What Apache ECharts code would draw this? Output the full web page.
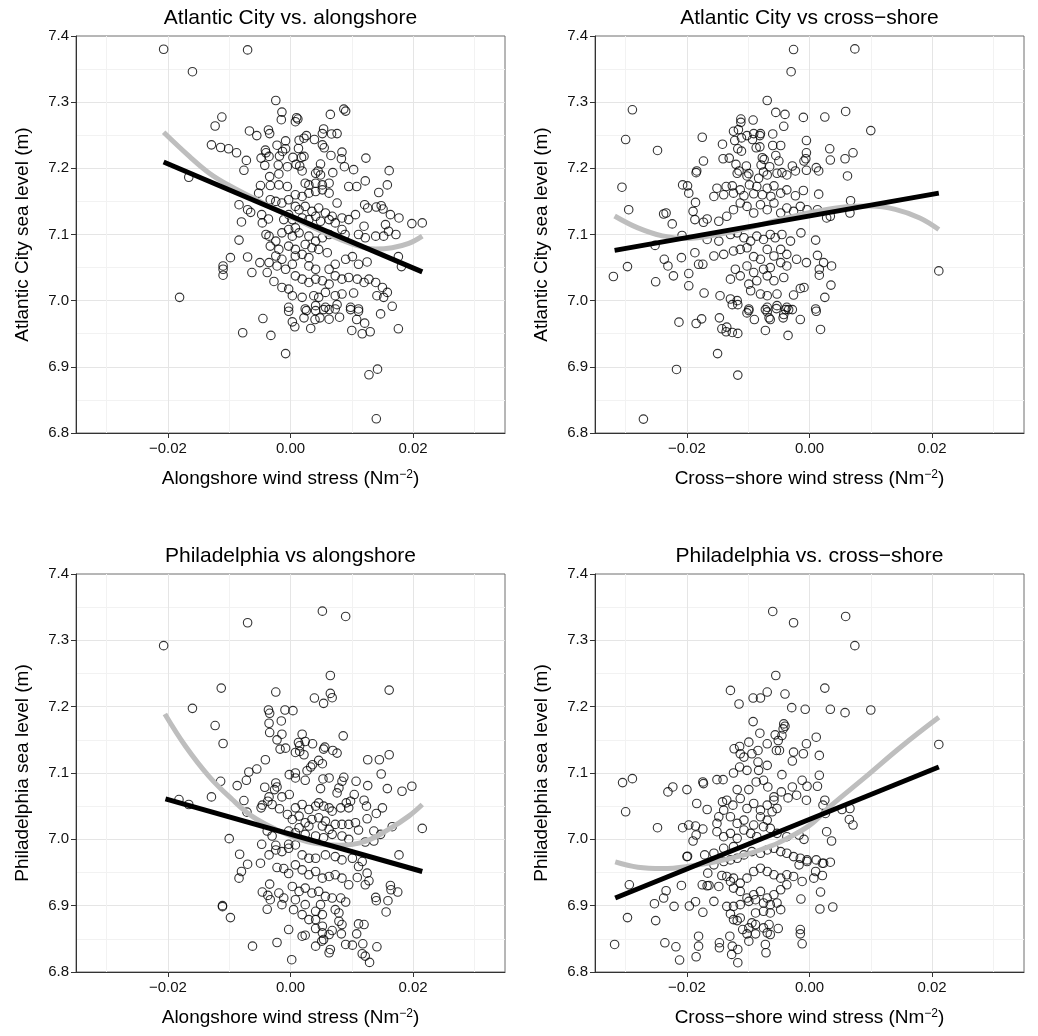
<!DOCTYPE html>
<html>
<head>
<meta charset="utf-8">
<title>Sea level vs wind stress</title>
<script src="https://cdn.jsdelivr.net/npm/echarts@6/dist/echarts.min.js"></script>
<style>
  html, body { margin: 0; padding: 0; background: #fff; }
  #chart { width: 1038px; height: 1036px; }
</style>
</head>
<body>
<div id="chart"></div>
<script>
// tick values
var xTicks = [-0.02, 0, 0.02];
var yTicks = [6.8, 6.9, 7.0, 7.1, 7.2, 7.3, 7.4];

var titles = ['Atlantic City vs. alongshore', 'Atlantic City vs cross\u2212shore',
              'Philadelphia vs alongshore', 'Philadelphia vs. cross\u2212shore'];
var yNames = ['Atlantic City sea level (m)', 'Atlantic City sea level (m)',
              'Philadelphia sea level (m)', 'Philadelphia sea level (m)'];
var xNames = ['Alongshore wind stress (Nm{sup|\u22122})', 'Cross\u2212shore wind stress (Nm{sup|\u22122})',
              'Alongshore wind stress (Nm{sup|\u22122})', 'Cross\u2212shore wind stress (Nm{sup|\u22122})'];

// Atlantic City sea level vs alongshore wind stress
var acAlongPts = [
  [-0.0207,7.38],[-0.007,7.379],[-0.016,7.346],[-0.0024,7.3025],[0.0087,7.2895],[0.009,7.2865],[-0.0014,7.285],
  [-0.0015,7.2735],[0.001,7.2765],[0.0012,7.2745],[0.0008,7.2705],[0.0065,7.2815],[-0.0112,7.2775],[-0.0123,7.264],
  [-0.0067,7.2565],[-0.0055,7.2495],[-0.0036,7.258],[-0.0034,7.2525],[0.0054,7.2595],[0.0052,7.2525],[0.0067,7.252],
  [0.0076,7.2525],[0.0026,7.2495],[0.0022,7.2455],[0.0014,7.2425],[-0.0008,7.2415],[0.0039,7.2435],[-0.0129,7.2355],
  [-0.0114,7.2315],[-0.0101,7.2295],[-0.0088,7.2235],[-0.0022,7.235],[0.0052,7.2355],[0.0055,7.231],[0.0013,7.23],
  [-0.0008,7.2295],[-0.0013,7.2255],[-0.0041,7.2275],[-0.004,7.2235],[0.0084,7.2245],[0.0066,7.2195],[-0.0018,7.2185],
  [-0.0035,7.218],[-0.0048,7.2155],[0.0004,7.2165],[0.0018,7.2165],[0.0022,7.218],[0.0123,7.2155],[0.0083,7.2145],
  [-0.0072,7.212],[-0.0042,7.2045],[-0.002,7.205],[-0.0005,7.2025],[0.0009,7.206],[0.0015,7.2035],[0.0049,7.2065],
  [0.0088,7.2025],[0.0103,7.198],[0.0161,7.1965],[-0.0076,7.197],[0.0019,7.196],[0.0045,7.196],[0.0069,7.1935],
  [-0.0034,7.1875],[-0.0019,7.1915],[0.0041,7.1925],[0.0049,7.19],[-0.0166,7.1865],[-0.0049,7.174],[-0.0033,7.174],
  [-0.0019,7.175],[-0.0005,7.1725],[-0.0052,7.1625],[0.0024,7.1775],[0.003,7.175],[0.0041,7.1775],[0.0052,7.175],
  [0.0063,7.1775],[0.0095,7.1725],[0.0108,7.1725],[0.0122,7.181],[0.0158,7.175],[0.0144,7.1635],[-0.0033,7.1525],
  [-0.0024,7.15],[-0.0014,7.1475],[-0.0003,7.1525],[0.0008,7.16],[0.0019,7.1575],[0.003,7.1625],[0.0041,7.165],
  [0.0052,7.1675],[0.0063,7.1625],[0.0076,7.1475],[-0.0084,7.145],[-0.007,7.1375],[-0.0065,7.1335],[-0.0047,7.13],
  [-0.0036,7.1235],[-0.0046,7.1175],[-0.008,7.119],[0.0008,7.1425],[0.0014,7.1375],[0.0024,7.1425],[0.0035,7.135],
  [0.0046,7.14],[0.0057,7.1325],[0.0068,7.1275],[-0.0003,7.13],[-0.0011,7.1225],[0.0003,7.1225],[0.0019,7.125],
  [0.003,7.1225],[0.0041,7.1275],[0.0049,7.12],[0.0063,7.1225],[0.0073,7.1175],[0.0084,7.125],[0.0095,7.1225],
  [0.0106,7.13],[0.0121,7.145],[0.0126,7.14],[0.014,7.1415],[0.0148,7.1435],[0.0151,7.1385],[0.0163,7.13],
  [0.0177,7.125],[0.012,7.1125],[0.0155,7.115],[0.0198,7.1165],[0.0215,7.1175],[-0.004,7.1],[-0.0035,7.0975],
  [-0.0024,7.09],[-0.0014,7.1025],[-0.0003,7.1075],[0.0008,7.11],[0.0014,7.1025],[0.0003,7.0975],[0.003,7.0975],
  [0.0041,7.09],[0.0052,7.095],[0.0063,7.1],[0.0084,7.1075],[0.0089,7.1],[0.0111,7.1],[0.0122,7.095],[0.0139,7.0975],
  [0.0152,7.0975],[0.016,7.105],[0.0172,7.1],[-0.0084,7.0915],[-0.0033,7.0825],[-0.0019,7.0775],[-0.0003,7.0825],
  [0.0008,7.0775],[0.0024,7.085],[0.0035,7.08],[0.0046,7.0775],[0.006,7.0725],[-0.0024,7.0675],[-0.0014,7.0625],
  [0.0008,7.0675],[0.0019,7.07],[0.003,7.065],[-0.0098,7.065],[-0.007,7.066],[-0.005,7.0575],[-0.011,7.0525],
  [-0.011,7.0475],[-0.011,7.0385],[-0.0035,7.0575],[-0.0022,7.0525],[-0.0008,7.0475],[0.0003,7.055],[0.003,7.0525],
  [0.0041,7.0475],[0.0063,7.0475],[0.0073,7.055],[0.009,7.0625],[0.0101,7.0665],[0.0111,7.055],[0.0125,7.0585],
  [0.0176,7.0665],[0.0181,7.0515],[-0.0063,7.0425],[-0.0038,7.0425],[-0.0027,7.029],[-0.0014,7.02],[-0.0003,7.0175],
  [0.0008,7.0375],[0.0019,7.0325],[0.003,7.0275],[0.0041,7.0325],[0.0052,7.03],[0.0063,7.025],[0.0073,7.0375],
  [0.0084,7.0325],[0.0095,7.035],[0.0109,7.0325],[0.012,7.0275],[0.0128,7.0325],[0.0139,7.0275],[0.015,7.02],
  [0.0158,7.0125],[-0.0181,7.005],[0.0003,7.0075],[0.0019,7.005],[0.0038,7.0075],[0.0046,7.005],[0.0057,7.0125],
  [0.0073,7.0075],[0.0084,7.01],[0.0103,7.0115],[0.0141,7.0075],[0.0152,7.005],[-0.0003,6.99],[0.0024,6.9875],
  [0.0041,6.9925],[0.0057,6.99],[0.0073,6.9875],[0.0098,6.99],[0.0111,6.9875],[0.0166,6.9915],[-0.0003,6.984],
  [0.0026,6.985],[0.0041,6.985],[0.0054,6.9865],[0.0063,6.9865],[0.0076,6.994],[0.0098,6.9865],[0.0111,6.984],
  [0.0147,6.98],[-0.0045,6.973],[0.0003,6.968],[0.0007,6.9605],[0.0022,6.974],[0.004,6.9715],[0.0048,6.974],
  [0.0063,6.972],[0.008,6.975],[0.0108,6.9715],[0.0121,6.966],[0.0033,6.958],[0.01,6.955],[0.0117,6.95],[0.013,6.953],
  [0.0176,6.9575],[-0.0078,6.9515],[-0.0032,6.9475],[-0.0008,6.92],[0.0142,6.8965],[0.0128,6.888],[0.014,6.8215]
];
var acAlongFit = [[-0.0207,7.2095],[0.0215,7.0435]];
var acAlongSmooth = [[-0.0207,7.2545],[-0.0165,7.218],[-0.0133,7.193],[-0.01,7.174],[-0.005,7.15],[0,7.127],
  [0.005,7.105],[0.01,7.086],[0.0139,7.078],[0.0166,7.08],[0.0193,7.0865],[0.0215,7.0975]];

// Atlantic City sea level vs cross-shore wind stress
var acCrossPts = [
  [-0.0026,7.3795],[0.0074,7.3805],[-0.003,7.346],[-0.0069,7.3025],[-0.0289,7.2885],[0.0059,7.286],[-0.0055,7.2845],
  [-0.004,7.2815],[-0.001,7.277],[0.0025,7.2775],[-0.0112,7.2745],[-0.0112,7.2695],[-0.0092,7.273],[-0.0042,7.2635],
  [-0.0124,7.256],[-0.0116,7.2585],[0.01,7.257],[-0.0102,7.2495],[-0.0091,7.2525],[-0.0081,7.2495],[-0.008,7.2525],
  [-0.006,7.252],[-0.03,7.2435],[-0.0175,7.247],[-0.0122,7.242],[-0.0111,7.246],[-0.0093,7.2435],[-0.0005,7.242],
  [-0.0142,7.2365],[-0.0087,7.231],[-0.0081,7.2325],[-0.0117,7.2295],[-0.0111,7.226],[-0.006,7.2345],[-0.0047,7.2345],
  [-0.0248,7.227],[0.0033,7.2295],[-0.0005,7.2235],[0.0071,7.2235],[-0.0055,7.2195],[-0.0141,7.2145],[-0.0131,7.2155],
  [-0.0173,7.211],[-0.0077,7.216],[-0.0074,7.2135],[-0.005,7.211],[-0.0009,7.211],[-0.0006,7.2145],[0.0034,7.2125],
  [0.0058,7.2145],[-0.012,7.206],[-0.0103,7.2035],[-0.0079,7.205],[-0.0065,7.2025],[-0.0028,7.2035],[0.0011,7.201],
  [-0.0184,7.196],[-0.0115,7.196],[-0.0099,7.192],[-0.0075,7.1945],[-0.0045,7.1935],[-0.0023,7.196],[-0.0005,7.197],
  [0.0015,7.196],[0.0062,7.1885],[-0.0185,7.1935],[-0.0118,7.1925],[-0.0102,7.1885],[-0.0083,7.185],[-0.0069,7.19],
  [-0.0053,7.1925],[-0.0037,7.19],[-0.0306,7.1715],[-0.0207,7.175],[-0.0199,7.1735],[-0.0197,7.1625],[-0.0151,7.17],
  [-0.0136,7.1725],[-0.0126,7.1735],[-0.0113,7.1675],[-0.0098,7.175],[-0.0086,7.1725],[-0.0069,7.17],[-0.0058,7.1735],
  [-0.0156,7.1575],[-0.014,7.16],[-0.0124,7.1625],[-0.0107,7.1585],[-0.0091,7.1615],[-0.0077,7.16],[-0.0063,7.1575],
  [-0.0047,7.1625],[-0.0037,7.1675],[-0.0023,7.1585],[-0.001,7.1665],[0.0015,7.161],[-0.0186,7.1485],[-0.0295,7.1375],
  [-0.0238,7.131],[-0.0234,7.1325],[-0.019,7.135],[-0.0224,7.116],[-0.0187,7.1225],[-0.0173,7.1185],[-0.0167,7.1235],
  [-0.0148,7.12],[-0.0135,7.1275],[-0.0124,7.1375],[-0.0113,7.1475],[-0.0102,7.1425],[-0.0091,7.1325],[-0.008,7.145],
  [-0.0069,7.1375],[-0.0058,7.1475],[-0.0047,7.1325],[-0.0037,7.14],[-0.0026,7.135],[-0.0015,7.1425],[-0.0004,7.1375],
  [0.0013,7.1375],[0.0067,7.151],[0.0066,7.1325],[0.0028,7.125],[0.0034,7.1275],[-0.0208,7.0985],[-0.0252,7.0835],
  [-0.0167,7.0925],[-0.0148,7.09],[-0.0129,7.1],[-0.0118,7.1025],[-0.0107,7.095],[-0.0096,7.09],[-0.0086,7.0975],
  [-0.0075,7.0925],[-0.0064,7.1],[-0.0056,7.095],[-0.0045,7.1],[-0.0031,7.09],[-0.0014,7.1025],[0.001,7.0915],
  [-0.032,7.0365],[-0.0297,7.0515],[-0.0237,7.0625],[-0.0231,7.0525],[-0.0209,7.065],[-0.0222,7.0375],[-0.0187,7.0725],
  [-0.0181,7.055],[-0.0174,7.055],[-0.0197,7.041],[-0.0197,7.0225],[-0.0156,7.0675],[-0.014,7.07],[-0.0124,7.075],
  [-0.0113,7.0775],[-0.0102,7.08],[-0.0091,7.0665],[-0.008,7.0625],[-0.0069,7.0775],[-0.0058,7.0675],[-0.0047,7.0775],
  [-0.0037,7.07],[-0.0021,7.0625],[-0.0005,7.0575],[0.0013,7.0685],[0.0023,7.0575],[0.0036,7.0525],[0.0016,7.0475],
  [0.0016,7.0385],[0.0211,7.045],[-0.0121,7.0475],[-0.0102,7.0525],[-0.0091,7.0425],[-0.0075,7.0475],[-0.0064,7.05],
  [-0.0047,7.0575],[-0.0037,7.0525],[-0.0129,7.0325],[-0.0113,7.0375],[-0.0099,7.025],[-0.0086,7.03],[-0.0069,7.0375],
  [-0.0058,7.03],[-0.0042,7.035],[-0.0251,7.0285],[-0.0172,7.0115],[-0.0146,7.0075],[-0.0129,7.0025],[-0.0118,7.0],
  [-0.0096,7.015],[-0.008,7.01],[-0.0069,7.0075],[-0.0053,7.01],[-0.0026,7.0085],[-0.0015,7.0185],[-0.0009,7.02],
  [0.0025,7.005],[0.0035,7.0235],[-0.0099,6.9875],[-0.0069,6.99],[-0.0053,6.9925],[-0.0037,6.99],[0.001,6.9875],
  [-0.0126,6.994],[-0.0117,6.994],[-0.0099,6.985],[-0.0102,6.9815],[-0.009,6.9715],[-0.0072,6.9865],[-0.0069,6.983],
  [-0.0054,6.988],[-0.0064,6.9715],[-0.0066,6.974],[-0.0042,6.979],[-0.0043,6.974],[-0.0039,6.9865],[-0.0034,6.9865],
  [-0.0028,6.9865],[-0.0015,6.9715],[0.0011,6.984],[0.0018,6.9565],[-0.0213,6.9675],[-0.0185,6.9655],[-0.0176,6.9725],
  [-0.0147,6.974],[-0.0143,6.9575],[-0.0135,6.96],[-0.0136,6.953],[-0.0126,6.952],[-0.0117,6.9505],[-0.0072,6.955],
  [-0.0035,6.9475],[-0.015,6.92],[-0.0217,6.896],[-0.0117,6.8875],[-0.0271,6.821]
];
var acCrossFit = [[-0.0318,7.076],[0.0211,7.1625]];
var acCrossSmooth = [[-0.0318,7.128],[-0.028,7.11],[-0.024,7.098],[-0.02,7.094],[-0.015,7.1],[-0.01,7.11],
  [-0.005,7.122],[0,7.133],[0.005,7.141],[0.01,7.143],[0.014,7.138],[0.018,7.125],[0.0211,7.1075]];

// Philadelphia sea level vs alongshore wind stress
var phAlongPts = [
  [0.0052,7.344],[0.009,7.336],[-0.007,7.3265],[-0.0207,7.292],[0.0065,7.247],[-0.0113,7.228],[-0.0024,7.222],
  [0.0161,7.225],[0.0065,7.22],[0.0068,7.2135],[0.0039,7.213],[0.0054,7.205],[-0.016,7.1975],[-0.0036,7.195],
  [-0.0034,7.19],[-0.0009,7.195],[0.0004,7.194],[-0.0035,7.175],[-0.0015,7.1785],[-0.0034,7.161],[-0.0014,7.1585],
  [-0.0022,7.15],[-0.0123,7.1715],[-0.011,7.1445],[0.0019,7.1585],[0.0013,7.146],[0.0015,7.141],[0.0024,7.1475],
  [0.0036,7.144],[0.0086,7.156],[-0.0017,7.136],[-0.0008,7.1375],[0.0008,7.131],[0.0015,7.1325],[0.0022,7.1275],
  [0.0056,7.139],[0.0054,7.136],[0.0069,7.134],[0.0076,7.13],[-0.0041,7.12],[0.0046,7.119],[0.0052,7.114],
  [0.0036,7.1125],[0.0033,7.109],[0.0027,7.1035],[0.0126,7.12],[0.0145,7.12],[0.0161,7.1275],[-0.0068,7.1015],
  [-0.0055,7.106],[-0.0002,7.0975],[0.0008,7.1],[0.0008,7.0925],[0.0148,7.0985],[-0.0114,7.0875],[-0.0072,7.089],
  [-0.0087,7.081],[0.0024,7.089],[0.0053,7.091],[0.0063,7.0925],[0.0084,7.0875],[0.0087,7.0935],[0.0107,7.0875],
  [-0.0024,7.085],[-0.0022,7.079],[-0.0026,7.075],[-0.0042,7.0785],[0.0049,7.0765],[0.0079,7.0775],[0.0076,7.07],
  [-0.0002,7.0675],[-0.0014,7.064],[0.0126,7.081],[0.0158,7.0765],[0.0182,7.0725],[0.0198,7.08],[0.0104,7.0675],
  [0.0098,7.0575],[0.0091,7.055],[-0.0129,7.064],[-0.0076,7.0585],[-0.0035,7.064],[-0.0037,7.0575],[-0.0046,7.0515],
  [-0.0048,7.0475],[-0.003,7.0525],[-0.0018,7.046],[-0.0005,7.0375],[-0.0182,7.06],[-0.0166,7.0525],[0.012,7.059],
  [0.0124,7.05],[0.015,7.0475],[0.014,7.039],[0.0125,7.031],[0.0008,7.0475],[0.0019,7.0525],[0.003,7.045],
  [0.0041,7.05],[0.0046,7.055],[0.0054,7.05],[0.0063,7.0475],[0.0068,7.0425],[0.0082,7.0475],[0.0095,7.0475],
  [-0.0071,7.041],[0.0003,7.03],[0.0014,7.035],[0.0024,7.025],[0.0035,7.03],[0.0046,7.0325],[0.0057,7.0275],
  [0.0014,7.0175],[0.003,7.02],[0.0052,7.02],[0.0063,7.015],[0.0073,7.0225],[0.0084,7.0225],[0.0095,7.0225],
  [0.0106,7.025],[0.0111,7.014],[-0.0003,7.0125],[0.0008,7.01],[0.0024,7.0075],[0.0041,7.005],[0.0054,7.0025],
  [0.0068,7.0075],[0.0084,7.005],[0.0095,7.0],[-0.0038,7.0125],[-0.003,7.005],[-0.01,7.001],[0.0136,7.0125],
  [0.0147,7.0075],[0.0166,7.019],[0.0215,7.0165],[0.0122,6.996],[0.0136,6.9975],[-0.0047,6.9925],[-0.0024,6.991],
  [-0.0003,6.9925],[-0.0035,6.9765],[-0.0024,6.984],[-0.0014,6.9815],[-0.0003,6.9865],[0.0008,6.9915],[0.0019,6.9765],
  [0.003,6.9715],[0.0041,6.9715],[0.0057,6.9765],[0.0073,6.974],[0.0084,6.969],[0.0101,6.9715],[0.0117,6.9665],
  [-0.0083,6.9775],[-0.007,6.9625],[-0.008,6.9515],[-0.0084,6.9415],[-0.0049,6.964],[-0.0022,6.9575],[-0.0011,6.956],
  [-0.0003,6.9485],[0.0008,6.9615],[0.0019,6.954],[0.003,6.9465],[0.0041,6.9515],[0.0052,6.9415],[0.0063,6.944],
  [0.0073,6.9465],[0.0084,6.9415],[0.0095,6.9315],[0.0109,6.9425],[0.0125,6.949],[0.0128,6.9375],[0.0111,6.959],
  [0.0122,6.9315],[0.0177,6.9765],[0.0163,6.9305],[0.0164,6.924],[0.0175,6.9205],[-0.0034,6.9325],[-0.0046,6.9205],
  [-0.0037,6.9155],[-0.0033,6.909],[-0.0019,6.919],[-0.0011,6.9115],[0.0003,6.929],[0.0014,6.9215],[0.0024,6.9265],
  [0.0035,6.919],[0.0046,6.9215],[0.0057,6.914],[0.0068,6.9115],[0.0082,6.9115],[0.009,6.9055],[-0.0014,6.9015],
  [0.0008,6.909],[0.0024,6.9015],[0.0049,6.9015],[0.0139,6.9125],[0.014,6.9075],[0.0159,6.9075],[0.0156,6.8905],
  [-0.0111,6.9],[-0.0111,6.8985],[-0.0098,6.882],[-0.0038,6.8945],[0.0005,6.894],[0.0019,6.8865],[0.003,6.879],
  [0.0041,6.8915],[0.0052,6.8865],[0.0041,6.879],[0.0052,6.869],[0.0073,6.894],[0.0079,6.889],[0.0079,6.8765],
  [0.0084,6.8715],[-0.0003,6.864],[0.0019,6.854],[0.0024,6.8555],[0.0041,6.8655],[0.0052,6.859],[0.0063,6.8565],
  [0.0068,6.8625],[0.0083,6.8575],[0.0108,6.8575],[0.0111,6.8725],[0.012,6.8715],[-0.0062,6.839],[-0.0022,6.8445],
  [0.0041,6.839],[0.0051,6.8465],[0.0054,6.849],[0.0065,6.834],[0.0063,6.829],[0.009,6.8415],[0.0101,6.8405],
  [0.0118,6.8425],[0.0141,6.838],[0.0002,6.8185],[0.0117,6.8275],[0.0122,6.824],[0.0129,6.8145]
];
var phAlongFit = [[-0.0204,7.061],[0.0215,6.9515]];
var phAlongSmooth = [[-0.0205,7.189],[-0.0171,7.14],[-0.0133,7.095],[-0.0095,7.06],[-0.0063,7.035],[-0.0024,7.015],
  [0.0008,7.0025],[0.004,6.994],[0.008,6.991],[0.0122,6.997],[0.016,7.015],[0.0193,7.035],[0.0215,7.0525]];

// Philadelphia sea level vs cross-shore wind stress
var phCrossPts = [
  [-0.006,7.3435],[0.0059,7.336],[-0.0026,7.3265],[0.0074,7.292],[-0.0055,7.247],[-0.0129,7.2245],[-0.0115,7.204],
  [-0.0092,7.213],[-0.008,7.213],[-0.0069,7.222],[-0.004,7.219],[0.0025,7.228],[-0.0029,7.1985],[-0.0007,7.196],
  [0.0034,7.196],[0.0058,7.191],[0.01,7.195],[-0.0092,7.1775],[-0.0081,7.16],[-0.0056,7.1575],[-0.0051,7.149],
  [-0.0045,7.1565],[-0.0042,7.174],[-0.004,7.1705],[-0.0043,7.1665],[-0.0099,7.1465],[-0.0114,7.14],[-0.0123,7.1365],
  [-0.0113,7.129],[-0.0107,7.124],[-0.0094,7.129],[-0.0069,7.144],[-0.0084,7.134],[-0.0084,7.1165],[-0.0069,7.1115],
  [-0.0083,7.104],[-0.0054,7.134],[-0.0049,7.134],[-0.0026,7.1315],[-0.001,7.129],[-0.0005,7.144],[0.0011,7.154],
  [0.0016,7.1265],[-0.0028,7.118],[-0.0124,7.1],[-0.0114,7.109],[-0.0102,7.104],[-0.0045,7.0975],[0.0016,7.0965],
  [-0.0305,7.0855],[-0.0289,7.0915],[-0.03,7.0415],[-0.0231,7.0715],[-0.0223,7.079],[-0.02,7.075],[-0.0174,7.0865],
  [-0.0173,7.084],[-0.0151,7.09],[-0.0141,7.09],[-0.0118,7.075],[-0.0099,7.075],[-0.0087,7.0865],[-0.0075,7.089],
  [-0.0068,7.079],[-0.0058,7.064],[-0.0028,7.079],[-0.0021,7.0665],[-0.0012,7.089],[-0.0004,7.08],[-0.0005,7.059],
  [0.0013,7.08],[-0.0184,7.054],[-0.0167,7.045],[-0.0142,7.0565],[-0.0135,7.059],[-0.0125,7.0515],[-0.0113,7.0615],
  [-0.0102,7.0465],[-0.0091,7.054],[-0.008,7.044],[-0.0069,7.0515],[-0.0058,7.059],[-0.0053,7.0465],[-0.0046,7.0715],
  [-0.0035,7.0625],[0.0025,7.059],[0.0022,7.0515],[0.0026,7.039],[0.0066,7.0465],[0.0071,7.0215],[0.0065,7.03],
  [0.0053,7.045],[0.0211,7.143],[-0.0248,7.0175],[-0.0207,7.0175],[-0.0197,7.0215],[-0.0186,7.02],[-0.0174,7.0155],
  [-0.0185,7.0065],[-0.019,6.9975],[-0.0151,7.024],[-0.0148,7.034],[-0.014,7.044],[-0.0129,7.034],[-0.0118,7.024],
  [-0.0107,7.029],[-0.0091,7.0215],[-0.008,7.034],[-0.0069,7.029],[-0.0061,7.0415],[-0.0151,7.0115],[-0.014,7.004],
  [-0.0129,7.009],[-0.0118,7.0015],[-0.0107,7.014],[-0.0096,7.009],[-0.0086,7.004],[-0.0075,7.019],[-0.0064,7.0165],
  [-0.0053,7.009],[-0.0017,7.0065],[-0.0009,7.0],[0.0028,7.0115],[0.0036,6.9975],[-0.0037,7.004],[-0.02,6.974],
  [-0.0199,6.9745],[-0.0171,6.9765],[-0.0156,6.979],[-0.014,6.9865],[-0.0124,6.989],[-0.0156,6.9615],[-0.0166,6.949],
  [-0.0175,6.9315],[-0.0164,6.9305],[-0.0148,6.929],[-0.0156,6.9065],[-0.014,6.9665],[-0.0129,6.969],[-0.0118,6.9715],
  [-0.0107,6.9765],[-0.0094,6.9815],[-0.008,6.979],[-0.0069,6.984],[-0.0058,6.9865],[-0.0047,6.9815],[-0.0037,6.979],
  [-0.0026,6.974],[-0.0015,6.9715],[-0.0004,6.969],[-0.0017,6.9615],[-0.0143,6.9455],[-0.0135,6.944],[-0.0129,6.9365],
  [-0.0124,6.9415],[-0.0113,6.934],[-0.0102,6.9415],[-0.0091,6.9515],[-0.008,6.9565],[-0.0069,6.9515],[-0.0058,6.9465],
  [-0.0047,6.9415],[-0.0037,6.9465],[-0.0026,6.944],[-0.0012,6.9365],[0.001,6.9515],[0.0007,6.9415],[0.0021,6.964],
  [0.0034,6.9655],[0.0021,6.9455],[0.0018,6.9205],[0.0017,6.895],[0.0038,6.898],[-0.0004,6.9665],[-0.0124,6.9265],
  [-0.0113,6.9215],[-0.0102,6.9115],[-0.0091,6.9165],[-0.008,6.9215],[-0.0069,6.9115],[-0.0058,6.9165],[-0.0047,6.924],
  [-0.0037,6.9315],[-0.0135,6.899],[-0.0124,6.899],[-0.0113,6.9015],[-0.0099,6.9065],[-0.0088,6.909],[-0.0075,6.904],
  [-0.0064,6.9015],[-0.0053,6.904],[-0.0047,6.894],[-0.0014,6.91],[-0.0129,6.8875],[-0.0124,6.879],[-0.0118,6.8775],
  [-0.0113,6.8815],[-0.0088,6.889],[-0.0075,6.8915],[-0.0064,6.889],[-0.0094,6.874],[-0.0099,6.8665],[-0.0088,6.8715],
  [-0.0109,6.864],[-0.0102,6.8575],[-0.0099,6.8465],[-0.0088,6.8575],[-0.0075,6.8665],[-0.0066,6.8715],[-0.0069,6.859],
  [-0.0064,6.8565],[-0.0051,6.8655],[-0.0015,6.864],[-0.0015,6.8575],[-0.0012,6.8425],[-0.0072,6.8415],[-0.0071,6.829],
  [-0.013,6.854],[-0.0126,6.839],[-0.0127,6.8265],[-0.0117,6.834],[-0.0117,6.814],[-0.0147,6.844],[-0.0147,6.8365],
  [-0.0181,6.854],[-0.0181,6.839],[-0.0185,6.823],[-0.0218,6.838],[-0.0212,6.818],[-0.0236,6.844],[-0.0318,6.8415],
  [-0.0297,6.882],[-0.0294,6.9315],[-0.0253,6.903],[-0.0251,6.8775],[-0.0238,6.9115],[-0.0234,6.9225],[-0.0221,6.899],
  [-0.0209,6.9305],[-0.0196,6.8995],[-0.0186,6.906],[-0.0174,6.89],[-0.0167,6.93],[0.0011,6.969],[0.0023,6.964]
];
var phCrossFit = [[-0.0317,6.9115],[0.0211,7.109]];
var phCrossSmooth = [[-0.0317,6.966],[-0.028,6.958],[-0.024,6.956],[-0.02,6.959],[-0.015,6.967],[-0.01,6.978],
  [-0.0069,6.988],[-0.005,6.995],[0,7.021],[0.0034,7.05],[0.009,7.093],[0.015,7.14],[0.0211,7.184]];

var points = [acAlongPts, acCrossPts, phAlongPts, phCrossPts];
var fits = [acAlongFit, acCrossFit, phAlongFit, phCrossFit];
var smooths = [acAlongSmooth, acCrossSmooth, phAlongSmooth, phCrossSmooth];

var panels = [
  {left: 76, top: 36, width: 429, height: 397},
  {left: 595, top: 36, width: 429, height: 397},
  {left: 76, top: 574, width: 429, height: 398},
  {left: 595, top: 574, width: 429, height: 398}
];

var FONT = '"Liberation Sans", Arial, sans-serif';
var majorGrid = '#e5e5e5';
var minorGrid = '#f2f2f2';
var clear = 'rgba(0,0,0,0)';

var fmtX = function(v){
  if (Math.abs(v) < 1e-9) return '0.00';
  return (v < 0 ? '\u2212' : '') + Math.abs(v).toFixed(2);
};

var grids = [], xAxes = [], gridAxes = [], yAxes = [], series = [], graphics = [];

panels.forEach(function(p, i){
  grids.push({
    left: p.left, top: p.top, width: p.width, height: p.height,
    show: true, backgroundColor: '#fff', borderColor: '#6e6e6e', borderWidth: 1
  });
  xAxes.push({
    gridIndex: i, type: 'value', min: -0.035, max: 0.035, interval: 0.005,
    axisLine: {show: true, onZero: false, lineStyle: {color: '#333', width: 1}},
    axisTick: {show: true, customValues: xTicks, length: 5, lineStyle: {color: '#333'}},
    axisLabel: {customValues: xTicks, formatter: fmtX, fontSize: 15, fontFamily: FONT, color: '#111', margin: 8},
    splitLine: {show: false},
    name: xNames[i], nameLocation: 'middle', nameGap: 36,
    nameTextStyle: {fontSize: 19, fontFamily: FONT, color: '#000',
      rich: {sup: {fontSize: 12, fontFamily: FONT, verticalAlign: 'top', color: '#000'}}}
  });
  // a second, hidden x axis only carries the vertical grid lines:
  // every 0.005, showing -0.03/-0.01/0.01/0.03 as minor and -0.02/0/0.02 as major
  gridAxes.push({
    gridIndex: i, type: 'value', position: 'top', min: -0.035, max: 0.035, interval: 0.005,
    axisLine: {show: false}, axisTick: {show: false}, axisLabel: {show: false},
    splitLine: {show: true, showMinLine: true, showMaxLine: true,
      lineStyle: {color: [clear, minorGrid, clear, majorGrid], width: 1}}
  });
  yAxes.push({
    gridIndex: i, type: 'value', min: 6.8, max: 7.4, interval: 0.1,
    axisLine: {show: true, onZero: false, lineStyle: {color: '#333', width: 1}},
    axisTick: {show: true, length: 5, lineStyle: {color: '#333'}},
    axisLabel: {formatter: function(v){ return v.toFixed(1); }, fontSize: 15, fontFamily: FONT, color: '#111', margin: 7},
    splitLine: {show: true, showMinLine: false, showMaxLine: false, lineStyle: {color: majorGrid, width: 1}},
    minorTick: {show: false, splitNumber: 2},
    minorSplitLine: {show: true, lineStyle: {color: minorGrid, width: 1}},
    name: yNames[i], nameLocation: 'middle', nameGap: 44, nameRotate: 90,
    nameTextStyle: {fontSize: 19, fontFamily: FONT, color: '#000'}
  });
  series.push({
    type: 'scatter', xAxisIndex: i, yAxisIndex: i, data: points[i],
    symbol: 'circle', symbolSize: 8.5, silent: true, z: 2,
    itemStyle: {color: clear, borderColor: '#000', borderWidth: 1.1}
  });
  series.push({
    type: 'line', xAxisIndex: i, yAxisIndex: i, data: smooths[i], smooth: 0.4,
    showSymbol: false, silent: true, z: 3,
    lineStyle: {color: '#bebebe', width: 5}
  });
  series.push({
    type: 'line', xAxisIndex: i, yAxisIndex: i, data: fits[i],
    showSymbol: false, silent: true, z: 4,
    lineStyle: {color: '#000', width: 5}
  });
  graphics.push({
    type: 'text', x: p.left + p.width / 2, y: p.top - 18,
    style: {text: titles[i], fontSize: 21, fontFamily: FONT, fill: '#000', align: 'center', verticalAlign: 'middle'}
  });
});

var chart = echarts.init(document.getElementById('chart'), null, {renderer: 'canvas'});
chart.setOption({
  animation: false,
  backgroundColor: '#fff',
  grid: grids,
  xAxis: xAxes.concat(gridAxes),
  yAxis: yAxes,
  series: series,
  graphic: graphics
});
</script>
</body>
</html>
